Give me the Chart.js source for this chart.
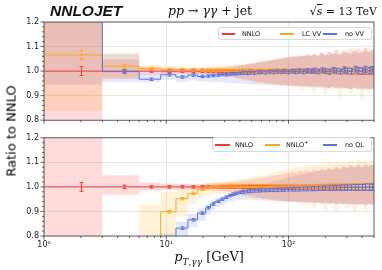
<!DOCTYPE html>
<html lang="en">
<head>
<meta charset="UTF-8">
<title>NNLOJET: pp → γγ + jet ratios</title>
<script src="https://cdn.jsdelivr.net/npm/chart.js"></script>
<style>
    body{margin:0;background:#fff;width:382px;height:270px;position:relative;overflow:hidden;font-family:"DejaVu Sans",sans-serif;color:#111}
    .abs{position:absolute;white-space:nowrap}
    .leg{position:absolute;border:1px solid #d8d8d8;border-radius:3px;background:rgba(255,255,255,0.85);box-sizing:border-box}
    .ls{position:absolute;height:1.5px}
    .lt{position:absolute;font-size:6.5px;line-height:8px;white-space:nowrap;color:#111}
</style>
</head>
<body>
<div style="position:absolute;left:0;top:0;width:382px;height:130px"><canvas id="topChart"></canvas></div>
<div style="position:absolute;left:0;top:128px;width:382px;height:142px"><canvas id="botChart"></canvas></div>

<div class="abs" style="left:50px;top:2px;font:italic bold 15.5px 'Liberation Sans'">NNLOJET</div>
<div class="abs" style="left:210px;top:3px;transform:translateX(-50%);font:12.5px 'DejaVu Serif'"><i>pp</i> → <i>γγ</i> + jet</div>
<div class="abs" style="right:5px;top:5px;font:11px 'DejaVu Serif'">√<span style="text-decoration:overline"><i>s</i></span> = 13 TeV</div>
<div class="abs" style="left:11px;top:131px;transform:translate(-50%,-50%) rotate(-90deg);font:13px 'DejaVu Sans';color:#000">Ratio to NNLO</div>
<div class="abs" style="left:209px;top:249px;transform:translateX(-50%);font:13px 'DejaVu Serif'"><i>p</i><sub style="font-size:9px"><i>T</i>,<i>γγ</i></sub> [GeV]</div>

<!-- legends -->
<div class="leg" style="left:218px;top:27px;width:154px;height:13px"></div>
<div class="ls" style="left:222px;top:33px;width:13px;background:#f23a3a"></div>
<span class="lt" style="left:242px;top:29.5px">NNLO</span>
<div class="ls" style="left:280px;top:33px;width:14px;background:#ffa81c"></div>
<span class="lt" style="left:302px;top:29.5px">LC VV</span>
<div class="ls" style="left:323px;top:33px;width:14px;background:#5a73e0"></div>
<span class="lt" style="left:345px;top:29.5px">no VV</span>

<div class="leg" style="left:212px;top:137px;width:160px;height:15px"></div>
<div class="ls" style="left:215px;top:144px;width:15px;background:#f23a3a"></div>
<span class="lt" style="left:235px;top:140.5px">NNLO</span>
<div class="ls" style="left:265px;top:144px;width:15px;background:#ffa81c"></div>
<span class="lt" style="left:286px;top:140.5px">NNLO<sup style="font-size:5px;line-height:0">+</sup></span>
<div class="ls" style="left:323px;top:144px;width:14px;background:#5a73e0"></div>
<span class="lt" style="left:345px;top:140.5px">no QL</span>

<script>
// bin edges in pT [GeV]
const pTedges=[1,3,6,9,12,15,18,21,23,25,27.5,30,32,34,36,38.5,41,44,47,50,54,58,62,67,72,77,83,89,95,
    102,110,118,127,136,146,157,168,180,193,207,222,238,255,273,292,313,335,360,385,412,440,470,500];

const xMajor=[1,10,100];
const xMinor=[2,3,4,5,6,7,8,9,20,30,40,50,60,70,80,90,200,300,400,500];
const xLabels={1:'10⁰',10:'10¹',100:'10²'};

// statistical errors (ratio units)
const relErr=[
    .018,.007,.005,.005,.005,.005,.005,.005,.005,.005,.005,.005,.005,
    .005,.005,.005,.006,.006,.006,.006,.006,.006,.006,.006,.007,.007,
    .007,.007,.007,.007,.008,.008,.008,.008,.008,.009,.009,.009,.009,
    .010,.010,.010,.010,.011,.011,.011,.012,.012,.012,.013,.013,.013];

// NNLO (reference) and its scale band
const nnlo=[
    1,1,1,1,1,1,1,1,1,1,1,1,1,
    1,1,1,1,1,1,1,1,1,1,1,1,1,
    1,1,1,1,1,1,1,1,1,1,1,1,1,
    1,1,1,1,1,1,1,1,1,1,1,1,1];
const nnloHi=[
    1.30,1.047,1.018,1.013,1.012,1.012,1.013,1.014,1.015,1.016,1.017,1.018,1.019,
    1.020,1.022,1.023,1.025,1.027,1.029,1.031,1.034,1.036,1.039,1.042,1.045,1.048,
    1.051,1.054,1.056,1.060,1.058,1.064,1.061,1.068,1.063,1.071,1.066,1.075,1.069,
    1.078,1.072,1.082,1.074,1.085,1.077,1.088,1.079,1.091,1.082,1.094,1.084,1.090];
const nnloLo=[
    0.70,0.968,0.985,0.988,0.989,0.988,0.987,0.986,0.985,0.984,0.982,0.980,0.978,
    0.976,0.974,0.971,0.968,0.966,0.963,0.960,0.957,0.955,0.952,0.950,0.948,0.946,
    0.944,0.943,0.942,0.940,0.941,0.938,0.940,0.936,0.939,0.934,0.937,0.933,0.936,
    0.931,0.934,0.930,0.933,0.928,0.931,0.927,0.930,0.926,0.929,0.925,0.928,0.926];

// top panel: LC VV
const lcvv=[
    1.066,1.020,1.010,1.006,1.006,1.005,1.004,1.004,1.003,1.004,1.003,1.003,1.002,
    1.003,1.002,1.003,1.002,1.002,1.003,1.001,1.002,1.002,1.001,1.002,1.001,1.002,
    1.000,1.002,1.001,1.001,1.002,1.000,1.002,1.001,0.999,1.002,1.001,1.000,1.003,
    1.001,0.999,1.002,1.001,1.003,1.000,1.002,0.999,1.003,1.001,1.002,1.000,1.003];
const lcvvHi=[
    1.30,1.076,1.024,1.020,1.018,1.017,1.018,1.019,1.020,1.021,1.022,1.023,1.024,
    1.025,1.026,1.028,1.030,1.032,1.034,1.036,1.039,1.042,1.046,1.044,1.050,1.048,
    1.055,1.052,1.058,1.054,1.062,1.057,1.066,1.060,1.070,1.063,1.058,1.072,1.066,
    1.080,1.064,1.090,1.068,1.074,1.085,1.067,1.093,1.072,1.080,1.097,1.075,1.088];
const lcvvLo=[
    0.840,0.975,0.996,0.994,0.993,0.992,0.990,0.989,0.987,0.985,0.983,0.981,0.978,
    0.975,0.972,0.968,0.964,0.961,0.958,0.955,0.952,0.950,0.948,0.946,0.944,0.945,
    0.941,0.943,0.938,0.941,0.935,0.939,0.920,0.937,0.932,0.912,0.935,0.930,0.905,
    0.933,0.928,0.934,0.895,0.930,0.926,0.910,0.932,0.925,0.884,0.929,0.915,0.927];

// top panel: no VV
const novv=[
    1.26,0.998,0.967,0.985,0.976,0.984,0.978,0.980,0.982,0.984,0.986,0.985,0.988,
    0.990,0.989,0.991,0.993,0.992,0.994,0.993,0.995,0.996,0.994,0.997,0.996,0.998,
    0.997,0.999,0.996,1.000,0.998,1.001,0.997,1.002,0.999,1.003,0.998,1.004,1.000,
    0.997,1.005,1.001,0.998,1.006,1.002,0.999,1.008,1.003,1.000,1.007,1.002,1.006];
const novvHi=[
    1.30,1.070,0.990,1.005,0.996,1.002,0.998,1.000,1.003,1.006,1.009,1.011,1.014,
    1.017,1.019,1.022,1.025,1.027,1.030,1.032,1.035,1.038,1.040,1.043,1.045,1.048,
    1.050,1.053,1.054,1.058,1.057,1.061,1.059,1.064,1.062,1.068,1.064,1.071,1.067,
    1.066,1.074,1.070,1.068,1.078,1.073,1.071,1.082,1.076,1.074,1.084,1.078,1.082];
const novvLo=[
    0.945,0.957,0.955,0.965,0.957,0.962,0.958,0.958,0.957,0.956,0.955,0.953,0.952,
    0.951,0.950,0.949,0.948,0.947,0.946,0.945,0.944,0.944,0.942,0.943,0.941,0.942,
    0.940,0.941,0.938,0.940,0.937,0.939,0.935,0.938,0.934,0.937,0.932,0.936,0.931,
    0.929,0.934,0.930,0.928,0.933,0.929,0.927,0.932,0.928,0.926,0.931,0.927,0.929];

// bottom panel: NNLO+
const nplus=[
    null,null,0.700,0.899,0.952,0.974,0.990,0.997,1.001,1.002,1.003,1.003,1.004,
    1.003,1.004,1.003,1.004,1.003,1.004,1.003,1.003,1.004,1.003,1.003,1.002,1.003,
    1.003,1.002,1.003,1.002,1.003,1.002,1.002,1.003,1.002,1.002,1.001,1.002,1.002,
    1.001,1.002,1.001,1.002,1.001,1.001,1.002,1.001,1.001,1.002,1.001,1.001,1.001];
const nplusHi=[
    null,null,0.928,0.980,0.992,1.004,1.012,1.016,1.018,1.020,1.022,1.023,1.025,
    1.027,1.029,1.031,1.033,1.036,1.038,1.041,1.044,1.047,1.050,1.054,1.057,1.061,
    1.064,1.068,1.071,1.075,1.078,1.082,1.080,1.087,1.084,1.092,1.088,1.096,1.091,
    1.099,1.093,1.102,1.095,1.105,1.097,1.108,1.099,1.110,1.101,1.112,1.100,1.108];
const nplusLo=[
    null,null,0.600,0.750,0.880,0.930,0.955,0.965,0.970,0.972,0.972,0.970,0.968,
    0.966,0.964,0.962,0.960,0.958,0.956,0.954,0.952,0.951,0.949,0.948,0.947,0.945,
    0.944,0.943,0.942,0.941,0.940,0.939,0.925,0.938,0.936,0.915,0.937,0.935,0.905,
    0.936,0.934,0.900,0.935,0.933,0.912,0.934,0.895,0.932,0.930,0.905,0.933,0.930];

// bottom panel: no QL
const noql=[
    null,null,null,0.750,0.832,0.866,0.893,0.915,0.930,0.941,0.950,0.958,0.965,
    0.970,0.974,0.978,0.980,0.982,0.983,0.984,0.985,0.986,0.986,0.987,0.988,0.988,
    0.989,0.989,0.990,0.990,0.991,0.991,0.992,0.992,0.993,0.993,0.994,0.994,0.995,
    0.995,0.996,0.996,0.996,0.997,0.997,0.997,0.998,0.998,0.998,0.999,0.999,0.999];
const noqlHi=[
    null,null,null,0.810,0.858,0.890,0.912,0.930,0.944,0.954,0.962,0.969,0.975,
    0.980,0.984,0.988,0.992,0.995,0.998,1.002,1.006,1.010,1.014,1.018,1.022,1.026,
    1.030,1.034,1.038,1.042,1.046,1.050,1.053,1.056,1.059,1.062,1.065,1.068,1.070,
    1.072,1.074,1.076,1.078,1.080,1.082,1.083,1.084,1.085,1.086,1.087,1.088,1.089];
const noqlLo=[
    null,null,null,0.700,0.795,0.835,0.862,0.888,0.905,0.918,0.926,0.933,0.938,
    0.942,0.945,0.947,0.948,0.949,0.949,0.948,0.947,0.946,0.945,0.944,0.943,0.942,
    0.941,0.940,0.939,0.938,0.937,0.936,0.935,0.935,0.934,0.934,0.933,0.933,0.932,
    0.932,0.931,0.931,0.930,0.930,0.930,0.929,0.929,0.929,0.928,0.928,0.928,0.928];

const RED='#f23a3a', ORANGE='#ffa81c', BLUE='#5a73e0';
const RED_BAND='rgba(255,0,0,0.14)', OR_BAND='rgba(255,165,0,0.15)', BL_BAND='rgba(65,105,225,0.15)';

Chart.defaults.font.family='DejaVu Sans';

// histogram steps: one point per lower edge plus the final upper edge
function steps(vals){
    const pts=vals.map((v,i)=>({x:pTedges[i],y:v}));
    pts.push({x:pTedges[vals.length],y:vals[vals.length-1]});
    return pts;
}
function band(lo,hi,color){
    const base={borderWidth:0,pointRadius:0,stepped:'before',order:10,clip:0};
    return [
        Object.assign({data:steps(lo),fill:false},base),
        Object.assign({data:steps(hi),fill:'-1',backgroundColor:color},base)
    ];
}
function line(vals,color,order){
    return {data:steps(vals),borderColor:color,borderWidth:1,pointRadius:0,stepped:'before',fill:false,order,clip:0};
}

// error bars, frame and minor ticks
const decor={
    id:'decor',
    afterDatasetsDraw(chart,args,opts){
        const {ctx,chartArea:a,scales:{x,y}}=chart;
        ctx.save();
        ctx.beginPath();ctx.rect(a.left,a.top,a.right-a.left,a.bottom-a.top);ctx.clip();
        ctx.lineWidth=1;
        for(const s of opts.bars){
            ctx.strokeStyle=s.color;
            ctx.beginPath();
            s.vals.forEach((v,i)=>{
                if(v==null) return;
                const px=Math.round(x.getPixelForValue((pTedges[i]+pTedges[i+1])/2))+0.5;
                const y1=y.getPixelForValue(v-relErr[i]), y2=y.getPixelForValue(v+relErr[i]);
                ctx.moveTo(px,y1);ctx.lineTo(px,y2);
                ctx.moveTo(px-2,y1);ctx.lineTo(px+2,y1);
                ctx.moveTo(px-2,y2);ctx.lineTo(px+2,y2);
            });
            ctx.stroke();
        }
        ctx.restore();
    },
    afterDraw(chart){
        const {ctx,chartArea:a,scales:{x,y}}=chart;
        ctx.save();
        ctx.strokeStyle='#3a3a3a';ctx.lineWidth=0.8;
        ctx.strokeRect(a.left,a.top,a.right-a.left,a.bottom-a.top);
        ctx.beginPath();
        xMajor.forEach(v=>{const p=x.getPixelForValue(v);ctx.moveTo(p,a.bottom);ctx.lineTo(p,a.bottom+3.5);});
        xMinor.forEach(v=>{const p=x.getPixelForValue(v);ctx.moveTo(p,a.bottom);ctx.lineTo(p,a.bottom+2);});
        for(let k=0;k<=20;k++){
            const p=y.getPixelForValue(0.8+k*0.02);
            ctx.moveTo(a.left,p);ctx.lineTo(a.left-(k%5===0?3.5:2),p);
        }
        ctx.stroke();
        ctx.restore();
    }
};

function makeOptions(showX,pad,xHeight,bars){
    return {
        responsive:true,maintainAspectRatio:false,animation:false,events:[],
        layout:{padding:{left:0,right:8,top:pad,bottom:0}},
        plugins:{legend:{display:false},tooltip:{enabled:false},
            filler:{drawTime:'beforeDatasetsDraw',propagate:false},
            decor:{bars}},
        scales:{
            x:{type:'logarithmic',min:1,max:500,
                afterBuildTicks:s=>{s.ticks=xMajor.map(v=>({value:v}));},
                afterFit:s=>{s.height=xHeight;},
                grid:{color:'rgba(0,0,0,0.09)',drawTicks:false},
                border:{display:false},
                ticks:{display:showX,autoSkip:false,maxRotation:0,padding:4,
                    font:{size:8},color:'#222',callback:v=>xLabels[v]||''}},
            y:{min:0.8,max:1.2,
                afterFit:s=>{s.width=44;},
                grid:{color:'rgba(0,0,0,0.09)',drawTicks:false},
                border:{display:false},
                ticks:{stepSize:0.1,padding:5,font:{size:8},color:'#222',callback:v=>v.toFixed(1)}}
        }
    };
}

new Chart(document.getElementById('topChart'),{
    type:'line',
    data:{datasets:[
        ...band(nnloLo,nnloHi,RED_BAND),
        ...band(lcvvLo,lcvvHi,OR_BAND),
        ...band(novvLo,novvHi,BL_BAND),
        line(nnlo,RED,3),line(lcvv,ORANGE,2),line(novv,BLUE,1)
    ]},
    options:makeOptions(false,22,5,[
        {vals:nnlo,color:RED},{vals:lcvv,color:ORANGE},{vals:novv,color:BLUE}]),
    plugins:[decor]
});

new Chart(document.getElementById('botChart'),{
    type:'line',
    data:{datasets:[
        ...band(nnloLo,nnloHi,RED_BAND),
        ...band(nplusLo,nplusHi,OR_BAND),
        ...band(noqlLo,noqlHi,BL_BAND),
        line(nnlo,RED,3),line(nplus,ORANGE,2),line(noql,BLUE,1)
    ]},
    options:makeOptions(true,6,34,[
        {vals:nnlo,color:RED},{vals:nplus,color:ORANGE},{vals:noql,color:BLUE}]),
    plugins:[decor]
});
</script>
</body>
</html>
